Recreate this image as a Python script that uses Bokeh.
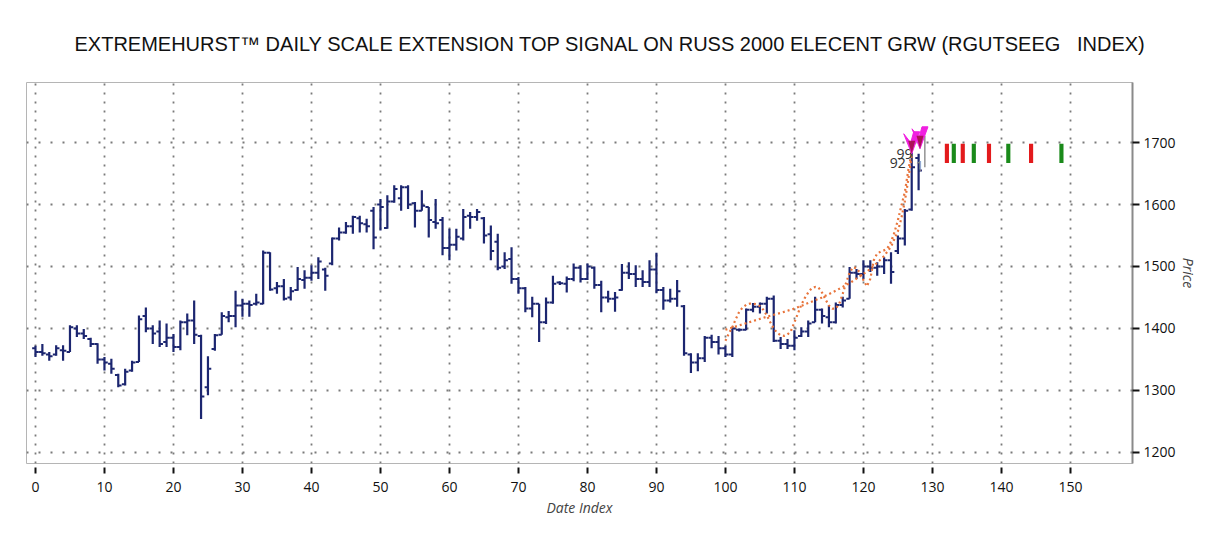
import numpy as np
from bokeh.plotting import figure
from bokeh.models import Range1d, FixedTicker
from bokeh.embed import file_html
from bokeh.resources import INLINE
from bokeh.core.properties import value

TITLE = "EXTREMEHURST\u2122 DAILY SCALE EXTENSION TOP SIGNAL ON RUSS 2000 ELECENT GRW (RGUTSEEG\u00a0\u00a0 INDEX)"

# OHLC data (index 0..128)
opens = [1368,1362,1358,1358,1365,1362,1400,1392,1383,1375,1350,1343,1325,1310,1332,1346,1420,1400,1395,1378,
         1385,1370,1410,1413,1388,1305,1367,1390,1418,1420,1437,1440,1440,1440,1522,1465,1468,1450,1462,1478,
         1482,1490,1495,1505,1545,1555,1565,1578,1568,1590,1600,1562,1605,1610,1628,1602,1590,1596,1572,1575,
         1530,1535,1545,1582,1580,1578,1552,1540,1500,1512,1480,1465,1432,1440,1410,1442,1474,1472,1480,1498,
         1480,1498,1470,1450,1448,1462,1490,1488,1480,1475,1495,1462,1445,1448,1436,1358,1345,1352,1385,1378,
         1368,1358,1398,1398,1430,1435,1440,1448,1380,1375,1372,1388,1395,1410,1430,1418,1410,1438,1448,1490,
         1488,1500,1498,1500,1510,1525,1545,1592,1675]
highs = [1372,1375,1362,1373,1373,1405,1405,1399,1385,1376,1354,1351,1327,1335,1348,1421,1434,1405,1413,1408,
         1391,1413,1424,1445,1390,1355,1391,1426,1428,1461,1448,1445,1456,1526,1523,1475,1480,1467,1499,1494,
         1502,1515,1498,1547,1563,1572,1582,1582,1577,1596,1609,1615,1631,1631,1631,1604,1623,1596,1609,1580,
         1561,1561,1593,1588,1593,1580,1566,1553,1523,1531,1483,1467,1451,1440,1450,1485,1476,1484,1505,1502,
         1505,1500,1477,1461,1459,1504,1507,1502,1494,1510,1522,1467,1464,1478,1438,1360,1360,1388,1390,1388,
         1372,1402,1400,1432,1441,1442,1451,1453,1386,1383,1397,1402,1413,1451,1432,1437,1442,1451,1499,1496,
         1510,1510,1507,1515,1523,1550,1593,1684,1682]
lows = [1354,1356,1348,1356,1348,1362,1386,1383,1370,1343,1332,1327,1305,1308,1330,1346,1394,1375,1370,1370,
        1362,1365,1389,1375,1254,1292,1364,1390,1410,1402,1419,1419,1437,1439,1461,1456,1445,1445,1461,1464,
        1477,1480,1461,1502,1542,1553,1553,1555,1555,1528,1558,1561,1603,1590,1593,1563,1590,1547,1561,1518,
        1510,1526,1542,1561,1574,1537,1510,1494,1496,1472,1456,1426,1418,1378,1407,1440,1470,1458,1476,1474,
        1478,1464,1426,1442,1427,1461,1480,1467,1467,1467,1457,1430,1442,1435,1356,1328,1331,1346,1368,1358,
        1354,1354,1395,1397,1426,1424,1424,1378,1367,1367,1365,1386,1386,1410,1408,1402,1408,1434,1448,1480,
        1480,1491,1485,1488,1472,1520,1534,1590,1623]
closes = [1362,1360,1355,1368,1364,1402,1392,1388,1375,1350,1345,1335,1308,1330,1345,1415,1400,1392,1375,1385,
          1370,1410,1413,1390,1290,1335,1389,1420,1420,1437,1440,1438,1442,1522,1463,1468,1448,1460,1480,1482,
          1490,1508,1485,1545,1555,1565,1580,1570,1565,1547,1596,1605,1625,1628,1600,1590,1598,1575,1570,1530,
          1535,1548,1580,1580,1588,1550,1525,1498,1510,1480,1465,1432,1440,1410,1442,1472,1473,1480,1498,1480,
          1500,1470,1450,1448,1450,1490,1488,1480,1475,1495,1462,1445,1448,1460,1360,1345,1352,1385,1378,1368,
          1358,1400,1398,1430,1435,1440,1448,1380,1375,1372,1385,1395,1408,1430,1420,1410,1438,1445,1490,1488,
          1500,1498,1500,1510,1491,1545,1590,1660,1655]
idx = list(range(len(closes)))

# Orange dotted cycle overlays
wave_x = [100,100.5,101,101.5,102,102.5,103,103.5,104,104.5,105,105.5,106,106.5,107,107.5,108,108.5,109,109.5,
          110,110.5,111,111.5,112,112.5,113,113.5,114,114.5,115,115.5,116,116.5,117,117.5,118,118.5,119,119.5,
          120,120.5,121,121.5,122,122.5,123,123.5,124,124.5,125,125.5,126,126.5,127]
wave_y = [1380,1392,1402,1415,1427,1434,1438,1440,1440,1439,1436,1430,1421,1410,1400,1393,1389,1388,1390,1396,
          1410,1424,1438,1449,1458,1465,1467,1466,1458,1447,1437,1432,1432,1440,1456,1474,1490,1499,1497,1490,
          1478,1468,1480,1510,1521,1524,1526,1530,1540,1555,1575,1598,1620,1655,1685]
trend_x = [100,102,104,106,108,110,112,114,116,118,120,121,122,123,124,125,125.5,126,126.5,127]
trend_y = [1398,1405,1412,1419,1425,1432,1441,1450,1461,1473,1488,1496,1506,1517,1532,1557,1578,1605,1640,1680]

# Top signal arrows and labels
arrow_x = [127.0, 128.2]
arrow_y = [1682, 1690]
label_x = [124.8, 123.8, 127.6]
label_y = [1681, 1667, 1663]
label_txt = ["99", "92", "1"]
label_col = ["#333333", "#333333", "#888888"]

# Projected cycle markers
proj_x = [132.1, 133.1, 134.4, 136.0, 138.2, 141.0, 144.3, 148.7]
proj_col = ["#e31a1c", "#1a8a1a", "#e31a1c", "#1a8a1a", "#e31a1c", "#1a8a1a", "#e31a1c", "#1a8a1a"]
proj_lo, proj_hi = 1667, 1698
gray_x, gray_lo, gray_hi = 128.9, 1660, 1711

x_ticks = list(range(0, 151, 10))
y_ticks = list(range(1200, 1701, 100))

NAVY = "#1c2670"

p = figure(width=1200, height=540, output_backend="svg", toolbar_location=None,
           x_range=Range1d(-1.3, 159.0), y_range=Range1d(1182, 1797),
           y_axis_location="right", min_border_left=26, min_border_right=65,
           min_border_top=82, min_border_bottom=77)
p.background_fill_color = "white"
p.border_fill_color = "white"
p.outline_line_color = "#b5b5b5"
p.outline_line_width = 1

p.title.text = TITLE
p.title.align = "left"
p.title.offset = 48
p.title.text_font = "Liberation Sans"
p.title.text_font_size = "20px"
p.title.text_font_style = "normal"
p.title.text_color = "#111111"
p.title.standoff = 56

# grids
p.xgrid.ticker = FixedTicker(ticks=x_ticks)
p.ygrid.ticker = FixedTicker(ticks=y_ticks)
p.xgrid.grid_line_color = "#7a7a7a"
p.xgrid.grid_line_dash = "2 7"
p.xgrid.grid_line_width = 1.8
p.ygrid.grid_line_color = "#7a7a7a"
p.ygrid.grid_line_dash = "2 10"
p.ygrid.grid_line_width = 1.8

# x axis
xa = p.xaxis[0]
xa.ticker = FixedTicker(ticks=x_ticks)
xa.axis_line_color = None
xa.major_tick_in = -4
xa.major_tick_out = 10
xa.major_tick_line_color = "#111111"
xa.major_tick_line_width = 2
xa.minor_tick_line_color = None
xa.major_label_text_font = "Open Sans"
xa.major_label_text_font_size = "14px"
xa.major_label_text_color = "#111111"
xa.major_label_standoff = 8
xa.axis_label = "Date Index"
xa.axis_label_text_font = "Open Sans"
xa.axis_label_text_font_size = "14px"
xa.axis_label_text_font_style = "italic"
xa.axis_label_standoff = 3

ya = p.yaxis[0]
ya.ticker = FixedTicker(ticks=y_ticks)
ya.axis_line_color = "#8a8a8a"
ya.axis_line_width = 2
ya.major_tick_in = 0
ya.major_tick_out = 7
ya.major_tick_line_color = "#111111"
ya.major_tick_line_width = 2
ya.minor_tick_line_color = None
ya.major_label_text_font = "Open Sans"
ya.major_label_text_font_size = "14px"
ya.major_label_text_color = "#111111"
ya.major_label_standoff = 4
ya.axis_label = "Price"
ya.axis_label_text_font = "Open Sans"
ya.axis_label_text_font_size = "14px"
ya.axis_label_text_font_style = "italic"
ya.axis_label_standoff = 0

# OHLC bars
xs = np.array(idx, dtype=float)
tick = 0.48
p.segment(x0=xs, y0=lows, x1=xs, y1=highs, line_color=NAVY, line_width=2.2)
p.segment(x0=xs - tick, y0=opens, x1=xs, y1=opens, line_color=NAVY, line_width=2)
p.segment(x0=xs, y0=closes, x1=xs + tick, y1=closes, line_color=NAVY, line_width=2)

# orange dotted overlays
p.line(trend_x, trend_y, line_color="#e8743b", line_width=2.2, line_dash="2 3")
p.line(wave_x, wave_y, line_color="#e8743b", line_width=2.2, line_dash="2 3")

# projected markers
p.vbar(x=proj_x, bottom=proj_lo, top=proj_hi, width=0.6, fill_color=proj_col, line_color=None)
p.segment(x0=[gray_x], y0=[gray_lo], x1=[gray_x], y1=[gray_hi], line_color="#9a9a9a", line_width=1.6)

p.text(x=label_x, y=label_y, text=label_txt, text_font=value("Open Sans"), text_font_size="14px",
       text_color=label_col, text_baseline="alphabetic", text_align="left")

# arrows (chevrons) built around the signal points
px_x = 1 / 6.918
px_y = 1 / 0.62
ax_list, ay_list, ix_list, iy_list = [], [], [], []
for ax, ay in zip(arrow_x, arrow_y):
    ax_list.append([ax, ax - 8 * px_x, ax - 1 * px_x, ax + 2 * px_x, ax + 8 * px_x])
    ay_list.append([ay, ay + 20 * px_y, ay + 11 * px_y, ay + 22 * px_y, ay + 22 * px_y])
    ix_list.append([ax, ax - 3.5 * px_x, ax + 3.5 * px_x])
    iy_list.append([ay, ay + 13 * px_y, ay + 13 * px_y])
p.patches(ax_list, ay_list, fill_color="#f020e0", line_color="#f020e0", line_width=1)
p.patches(ix_list, iy_list, fill_color="#a01040", line_color=None, fill_alpha=0.85)

open("out.html", "w").write(file_html(p, INLINE))
